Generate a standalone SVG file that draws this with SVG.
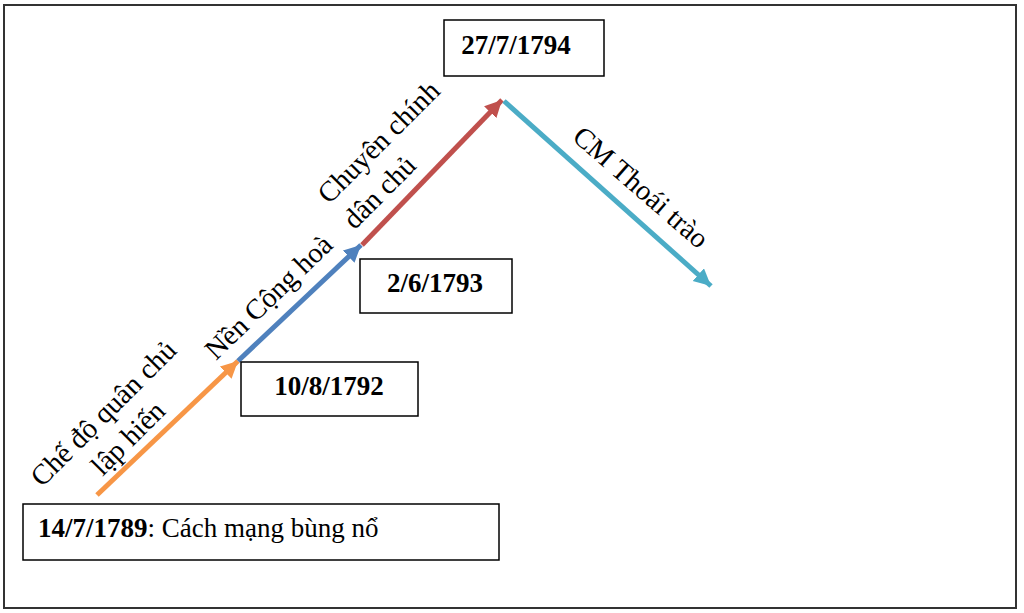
<svg xmlns="http://www.w3.org/2000/svg" width="1024" height="613" viewBox="0 0 1024 613">
<style>
.box{fill:#fff;stroke:#000;stroke-width:1.5}
.t{font-family:"Liberation Serif","Times New Roman",serif;font-size:27px;fill:#000}
.r{font-size:28.5px}
.b{font-weight:bold}
.ln{fill:none;stroke-width:5}
</style>
<defs>
<marker id="mo" markerUnits="userSpaceOnUse" markerWidth="20" markerHeight="20" refX="17" refY="8.5" orient="auto"><path d="M0,0 L17,8.5 L0,17 Z" fill="#F79646"/></marker>
<marker id="mb" markerUnits="userSpaceOnUse" markerWidth="20" markerHeight="20" refX="17" refY="8.5" orient="auto"><path d="M0,0 L17,8.5 L0,17 Z" fill="#4F81BD"/></marker>
<marker id="mr" markerUnits="userSpaceOnUse" markerWidth="20" markerHeight="20" refX="17" refY="8.5" orient="auto"><path d="M0,0 L17,8.5 L0,17 Z" fill="#C0504D"/></marker>
<marker id="mt" markerUnits="userSpaceOnUse" markerWidth="20" markerHeight="20" refX="17" refY="8.5" orient="auto"><path d="M0,0 L17,8.5 L0,17 Z" fill="#4BACC6"/></marker>
</defs>
<rect x="0" y="0" width="1024" height="613" fill="#fff"/>
<rect x="4" y="5" width="1012" height="603" fill="none" stroke="#333" stroke-width="2"/>
<g id="connectors">
<line class="ln" x1="97" y1="495" x2="238" y2="361" stroke="#F79646" marker-end="url(#mo)"/>
<line class="ln" x1="238" y1="361" x2="361" y2="245" stroke="#4F81BD" marker-end="url(#mb)"/>
<line class="ln" x1="362" y1="245" x2="502" y2="100" stroke="#C0504D" marker-end="url(#mr)"/>
<line class="ln" x1="504" y1="101" x2="711" y2="286" stroke="#4BACC6" marker-end="url(#mt)"/>
</g>
<g id="label-qcl" transform="translate(110,420) rotate(-45)">
<text class="t r" x="0" y="0" text-anchor="middle">Chế độ quân chủ</text>
<text class="t r" x="0" y="35" text-anchor="middle">lập hiến</text>
</g>
<g id="label-ch" transform="translate(216,361) rotate(-44)">
<text class="t r" x="0" y="0">Nền Cộng hoà</text>
</g>
<g id="label-cc" transform="translate(329,205) rotate(-45)">
<text class="t r" x="0" y="0">Chuyên chính</text>
<text class="t r" x="0" y="36">dân chủ</text>
</g>
<g id="label-tt" transform="translate(571,139) rotate(41)">
<text class="t r" x="0" y="0">CM Thoái trào</text>
</g>
<g id="n1789">
<rect class="box" x="23" y="504" width="476" height="56"/>
<text class="t" x="38" y="537"><tspan class="b">14/7/1789</tspan>: Cách mạng bùng nổ</text>
</g>
<g id="n1792">
<rect class="box" x="241" y="362" width="177" height="54"/>
<text class="t b" x="329" y="395" text-anchor="middle">10/8/1792</text>
</g>
<g id="n1793">
<rect class="box" x="360" y="259" width="152" height="54"/>
<text class="t b" x="435" y="292" text-anchor="middle">2/6/1793</text>
</g>
<g id="n1794">
<rect class="box" x="444" y="20" width="160" height="56"/>
<text class="t b" x="516" y="54" text-anchor="middle">27/7/1794</text>
</g>
</svg>
